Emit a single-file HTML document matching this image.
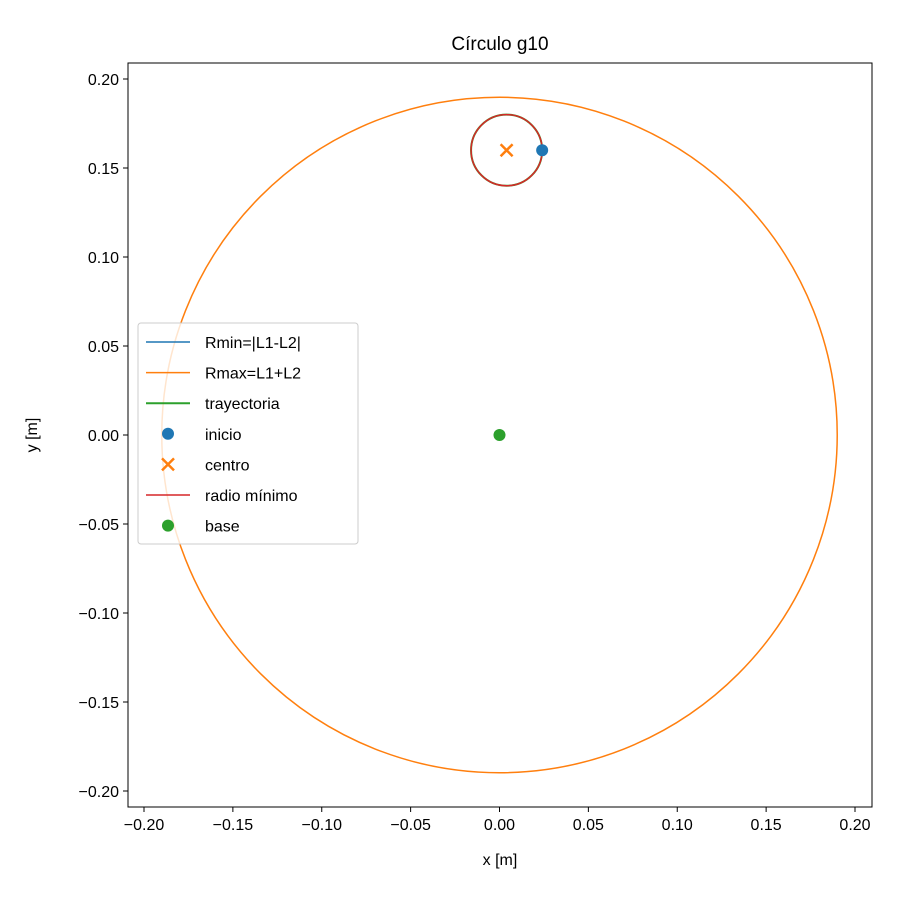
<!DOCTYPE html>
<html><head><meta charset="utf-8"><style>
body{margin:0;background:#fff;}
text{font-family:"Liberation Sans","DejaVu Sans",sans-serif;}
</style></head><body>
<svg id="chart" width="900" height="900" xmlns="http://www.w3.org/2000/svg">
<rect width="900" height="900" fill="#fff"/>
<g id="plot"></g>
</svg>
<script>
const xTicks=[-0.20,-0.15,-0.10,-0.05,0.00,0.05,0.10,0.15,0.20];
const yTicks=[-0.20,-0.15,-0.10,-0.05,0.00,0.05,0.10,0.15,0.20];
const rMin=[0.0];
const rMax=[0.19];
const trajCenter=[0.004,0.16];
const trajRadius=[0.02];
const inicio=[0.024,0.16];
const centro=[0.004,0.16];
const base=[0.0,0.0];
const legendLabels=["Rmin=|L1-L2|","Rmax=L1+L2","trayectoria","inicio","centro","radio mínimo","base"];

const L=128,R=872,T=63,B=807;
const sx=v=>499.5+v*1777.5;
const sy=v=>435-v*1780;
const ns="http://www.w3.org/2000/svg";
const g=document.getElementById('plot');
function mk(tag,attrs,parent){const e=document.createElementNS(ns,tag);for(const k in attrs)e.setAttribute(k,attrs[k]);(parent||g).appendChild(e);return e;}
function fmt(v){const s=Math.abs(v).toFixed(2);return (v<-1e-9?"−":"")+s;}

// clip
const defs=mk('defs',{});
const cp=mk('clipPath',{id:'clip'},defs);mk('rect',{x:L,y:T,width:R-L,height:B-T},cp);
const cg=mk('g',{'clip-path':'url(#clip)'});

let e;
e=mk('circle',{cx:sx(0),cy:sy(0),r:rMin[0]*1777.5,fill:'none',stroke:'#1f77b4','stroke-width':1.5},cg);

e=mk('circle',{cx:sx(0),cy:sy(0),r:rMax[0]*1777.5,fill:'none',stroke:'#ff7f0e','stroke-width':1.5},cg);

e=mk('circle',{cx:sx(trajCenter[0]),cy:sy(trajCenter[1]),r:trajRadius[0]*1777.5,fill:'none',stroke:'#2ca02c','stroke-width':2},cg);

e=mk('circle',{cx:sx(trajCenter[0]),cy:sy(trajCenter[1]),r:trajRadius[0]*1777.5,fill:'none',stroke:'#d62728','stroke-width':1.5},cg);

e=mk('circle',{cx:sx(inicio[0]),cy:sy(inicio[1]),r:6,fill:'#1f77b4'},cg);

e=mk('path',{d:`M${sx(centro[0])-6},${sy(centro[1])-6}l12,12M${sx(centro[0])+6},${sy(centro[1])-6}l-12,12`,stroke:'#ff7f0e','stroke-width':2.5},cg);

e=mk('circle',{cx:sx(base[0]),cy:sy(base[1]),r:6,fill:'#2ca02c'},cg);


// axes frame
e=mk('rect',{x:L,y:T,width:R-L,height:B-T,fill:'none',stroke:'#000','stroke-width':1});

xTicks.forEach(v=>{const x=sx(v);
 mk('line',{x1:x,x2:x,y1:B,y2:B+5,stroke:'#000'});
 const t=mk('text',{x:x,y:B+23,'text-anchor':'middle','font-size':16});t.textContent=fmt(v);
 });
yTicks.forEach(v=>{const y=sy(v);
 mk('line',{x1:L-5,x2:L,y1:y,y2:y,stroke:'#000'});
 const t=mk('text',{x:L-9,y:y+6,'text-anchor':'end','font-size':16});t.textContent=fmt(v);
 });
e=mk('text',{x:500,y:865,'text-anchor':'middle','font-size':16});e.textContent='x [m]';

e=mk('text',{x:37,y:435,'text-anchor':'middle','font-size':16,transform:'rotate(-90 37 435)'});e.textContent='y [m]';

e=mk('text',{x:500,y:50,'text-anchor':'middle','font-size':19});e.textContent='Círculo g10';


// legend
const lg=mk('g',{});
mk('rect',{x:138,y:323,width:220,height:221,rx:3,fill:'#fff','fill-opacity':0.8,stroke:'#ccc'},lg);
legendLabels.forEach((lab,i)=>{const y=342+i*30.6;
 const eg=mk('g',{},lg);
 if(i===0)mk('line',{x1:146,x2:190,y1:y,y2:y,stroke:'#1f77b4','stroke-width':1.5},eg);
 if(i===1)mk('line',{x1:146,x2:190,y1:y,y2:y,stroke:'#ff7f0e','stroke-width':1.5},eg);
 if(i===2)mk('line',{x1:146,x2:190,y1:y,y2:y,stroke:'#2ca02c','stroke-width':2},eg);
 if(i===3)mk('circle',{cx:168,cy:y,r:6,fill:'#1f77b4'},eg);
 if(i===4)mk('path',{d:`M162,${y-6}l12,12M174,${y-6}l-12,12`,stroke:'#ff7f0e','stroke-width':2.5},eg);
 if(i===5)mk('line',{x1:146,x2:190,y1:y,y2:y,stroke:'#d62728','stroke-width':1.5},eg);
 if(i===6)mk('circle',{cx:168,cy:y,r:6,fill:'#2ca02c'},eg);
 const t=mk('text',{x:205,y:y+6,'font-size':16},eg);t.textContent=lab;});
</script>
</body></html>
